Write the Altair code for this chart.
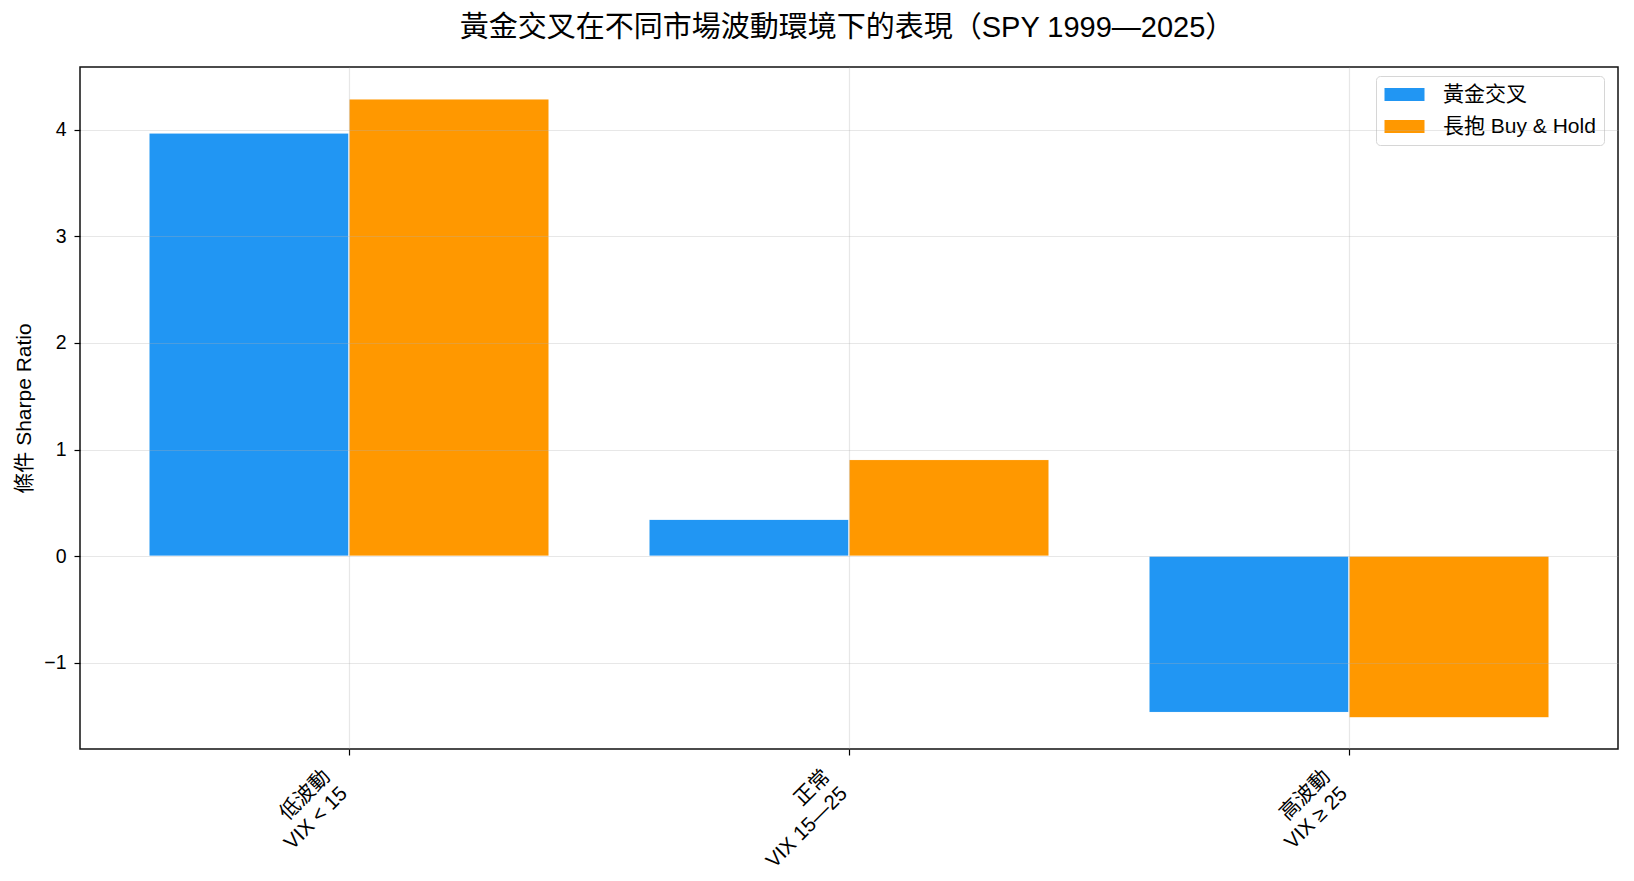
import altair as alt
import pandas as pd

categories = ["低波動\nVIX < 15", "正常\nVIX 15—25", "高波動\nVIX ≥ 25"]
series_names = ["黃金交叉", "長抱 Buy & Hold"]
golden_cross = [3.97, 0.345, -1.467]
buy_hold = [4.29, 0.906, -1.517]
y_ticks = [-1, 0, 1, 2, 3, 4]
colors = ["#2196F3", "#FF9800"]

rows = []
for c, g, b in zip(categories, golden_cross, buy_hold):
    rows.append({"cat": c, "series": series_names[0], "value": g})
    rows.append({"cat": c, "series": series_names[1], "value": b})
df = pd.DataFrame(rows)

FONT = "Liberation Sans, Noto Sans CJK TC, sans-serif"
# wide rectangle: with symbolSize 400 the unit is 10 px, so x -1..3 -> 0..40 px
rect_path = "M-1,-0.66L3,-0.66L3,0.66L-1,0.66Z"

chart = alt.Chart(df).mark_bar(stroke="white", strokeWidth=1).encode(
    x=alt.X(
        "cat:N",
        sort=categories,
        title=None,
        scale=alt.Scale(paddingInner=0.2, paddingOuter=0.138),
        axis=alt.Axis(
            labelAngle=-45,
            labelAlign="right",
            labelBaseline="top",
            labelExpr="split(datum.value, '\\n')",
            labelLineHeight=24,
            labelOffset=-29,
            labelPadding=11,
            labelFontSize=20.5,
            labelColor="black",
            labelFont=FONT,
            tickSize=6,
            tickColor="black",
            tickWidth=1.2,
            domain=False,
            grid=True,
            gridColor="#b0b0b0",
            gridOpacity=0.3,
            gridWidth=1.2,
            zindex=1,
        ),
    ),
    xOffset=alt.XOffset(
        "series:N", sort=series_names, scale=alt.Scale(paddingInner=0, paddingOuter=0)
    ),
    y=alt.Y(
        "value:Q",
        title="條件 Sharpe Ratio",
        scale=alt.Scale(domain=[-1.81, 4.59], nice=False, zero=False),
        axis=alt.Axis(
            values=y_ticks,
            labelExpr="replace(datum.label, '-', '−')",
            labelFontSize=19.5,
            labelColor="black",
            labelFont=FONT,
            labelPadding=8,
            tickSize=6,
            tickColor="black",
            tickWidth=1.2,
            domain=False,
            grid=True,
            gridColor="#b0b0b0",
            gridOpacity=0.3,
            gridWidth=1.2,
            titleFontSize=21,
            titleFontWeight="normal",
            titleColor="black",
            titleFont=FONT,
            titlePadding=9,
            zindex=1,
        ),
    ),
    color=alt.Color(
        "series:N",
        sort=series_names,
        scale=alt.Scale(domain=series_names, range=colors),
        legend=alt.Legend(
            title=None,
            orient="none",
            legendX=1296,
            legendY=9,
            symbolType=rect_path,
            symbolSize=400,
            symbolStrokeWidth=0,
            symbolOpacity=1,
            labelFontSize=21,
            labelFont=FONT,
            labelColor="black",
            labelOffset=38,
            rowPadding=10,
            padding=8,
            strokeColor="#d6d6d6",
            fillColor="white",
            cornerRadius=4,
        ),
    ),
).properties(
    width=1538,
    height=682,
    background="white",
    title=alt.TitleParams(
        "黃金交叉在不同市場波動環境下的表現（SPY 1999—2025）",
        fontSize=29,
        fontWeight="normal",
        font=FONT,
        color="black",
        anchor="middle",
        offset=24,
        dx=-2,
    ),
    autosize=alt.AutoSizeParams(type="none"),
    padding={"left": 80, "top": 67, "right": 16, "bottom": 132},
).configure_view(
    stroke="#111111", strokeWidth=1.5
)

chart.save("out.html", embed_options={"renderer": "svg", "actions": False})
